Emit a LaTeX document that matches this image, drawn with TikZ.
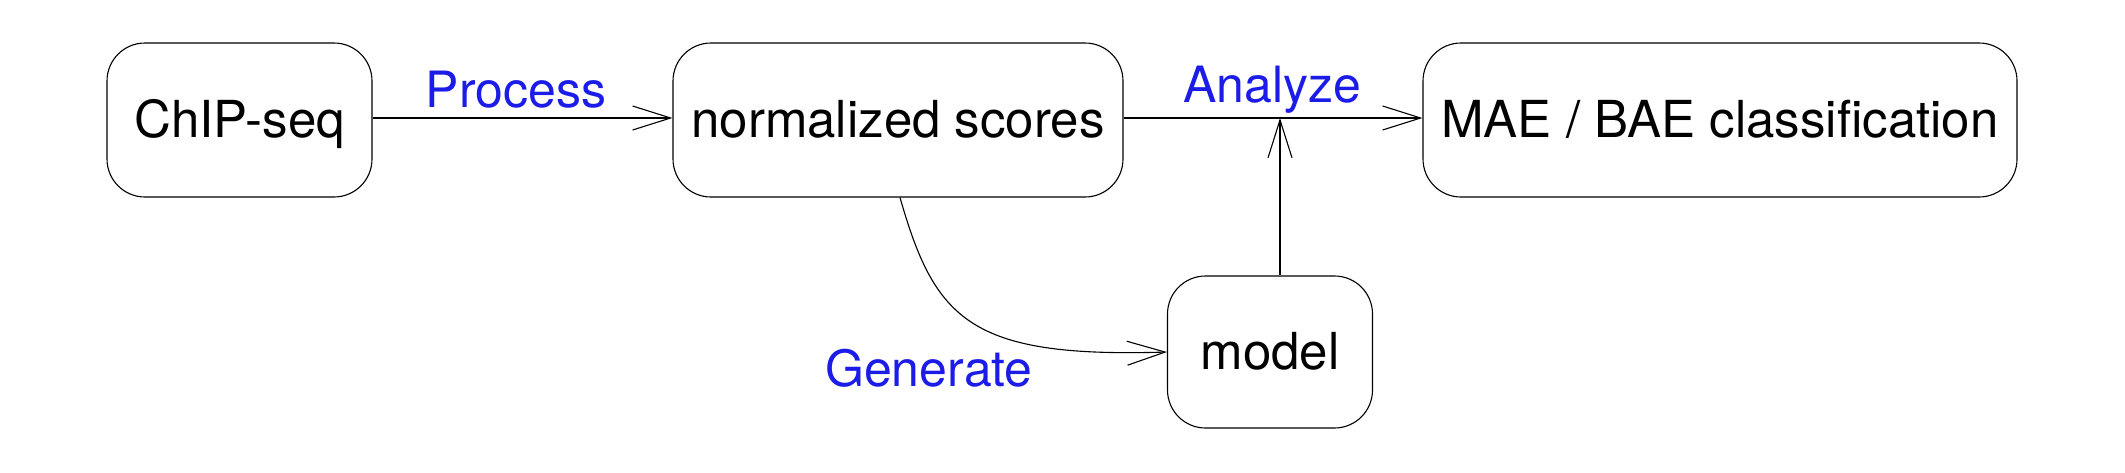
\documentclass[tikz,border=0pt]{standalone}
\usepackage{fontspec}
\setmainfont{TeX Gyre Heros}
\usetikzlibrary{arrows.meta}
\definecolor{lblue}{RGB}{28,28,232}
\begin{document}
\begin{tikzpicture}[x=1pt,y=-1pt,
  box/.style={draw=black,line width=1.1pt,rounded corners=38pt,inner sep=0pt,
    text height=35pt,text depth=0pt,font=\fontsize{51}{60}\selectfont},
  lbl/.style={text=lblue,anchor=base,inner sep=0pt,font=\fontsize{50}{60}\selectfont},
  conn/.style={line width=1.1pt,-{Straight Barb[length=38pt,width=24pt,line width=1.1pt]}}]
\useasboundingbox (0,0) rectangle (2125,472);
\node[box,minimum width=265pt,minimum height=154pt] (chip) at (239.5,120) {ChIP-seq};
\node[box,minimum width=450pt,minimum height=154pt] (norm) at (898,120) {normalized scores};
\node[box,minimum width=594pt,minimum height=154pt] (mae) at (1720,120) {MAE / BAE classification};
\node[box,minimum width=205pt,minimum height=152pt] (model) at (1270,352) {model};
\coordinate (j) at (1280,118);
\draw[conn] (chip.east |- 0,118) -- (norm.west |- 0,118);
\draw[conn] (norm.east |- 0,118) -- (mae.west |- 0,118);
\draw[conn] (j |- model.north) -- (j);
\draw[conn] ([xshift=2pt]norm.south) .. controls (935,320) and (970,358) .. (model.west);
\node[lbl] (process) at (516,107) {Process};
\node[lbl] (analyze) at (1272,102) {Analyze};
\node[lbl] (generate) at (929,386) {Generate};
\end{tikzpicture}
\end{document}
